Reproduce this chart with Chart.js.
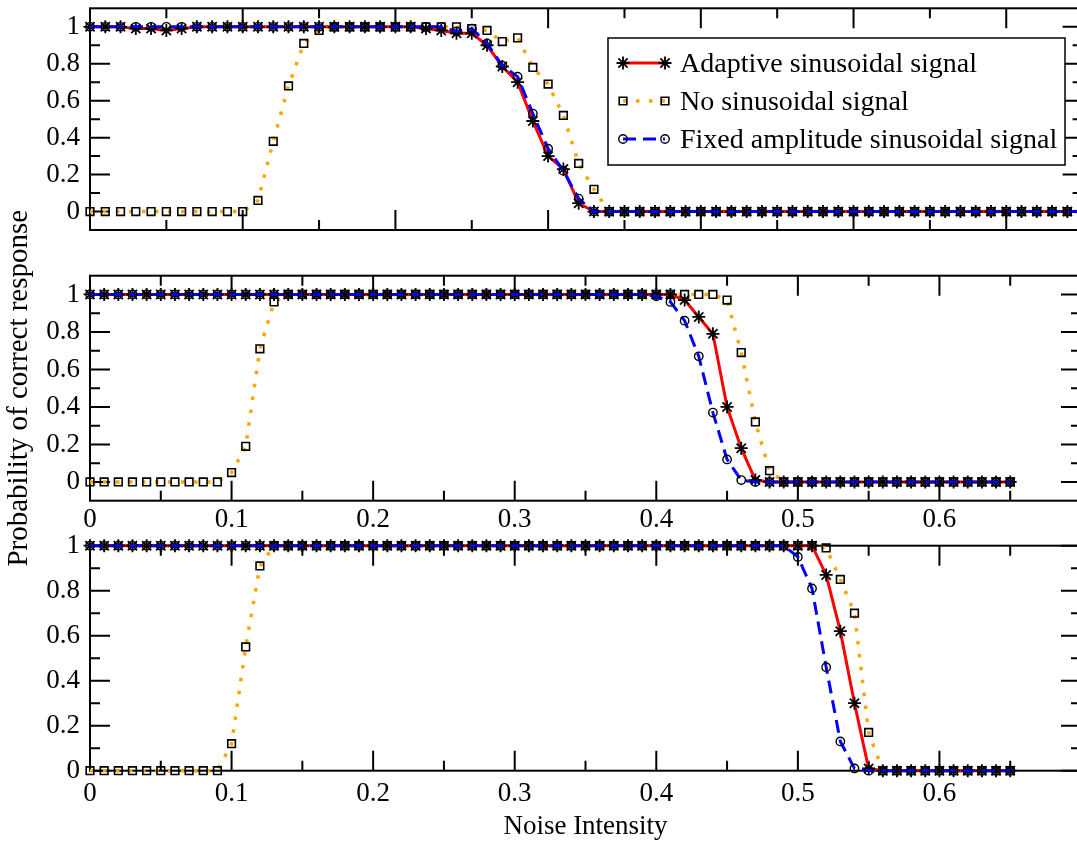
<!DOCTYPE html>
<html>
<head>
<meta charset="utf-8">
<script src="https://cdn.jsdelivr.net/npm/chart.js@4/dist/chart.umd.min.js"></script>
<style>
    html, body { margin: 0; padding: 0; background: #fff; overflow: hidden; width: 1077px; height: 843px; }
    canvas { position: absolute; left: 0; }
</style>
</head>
<body>
<canvas id="panel1" width="1100" height="240" style="top:0px"></canvas>
<canvas id="panel3" width="1100" height="323" style="top:520px"></canvas>
<canvas id="panel2" width="1100" height="420" style="top:180px"></canvas>
<script>
// Noise intensity values (x axis)
const noise = [0.00, 0.01, 0.02, 0.03, 0.04, 0.05, 0.06, 0.07, 0.08, 0.09,
    0.10, 0.11, 0.12, 0.13, 0.14, 0.15, 0.16, 0.17, 0.18, 0.19,
    0.20, 0.21, 0.22, 0.23, 0.24, 0.25, 0.26, 0.27, 0.28, 0.29,
    0.30, 0.31, 0.32, 0.33, 0.34, 0.35, 0.36, 0.37, 0.38, 0.39,
    0.40, 0.41, 0.42, 0.43, 0.44, 0.45, 0.46, 0.47, 0.48, 0.49,
    0.50, 0.51, 0.52, 0.53, 0.54, 0.55, 0.56, 0.57, 0.58, 0.59,
    0.60, 0.61, 0.62, 0.63, 0.64, 0.65];

const seriesNames = ['Adaptive sinusoidal signal', 'No sinusoidal signal', 'Fixed amplitude sinusoidal signal'];

// Panel 1 (top)
const adaptive1 = [1, 1, 1, 0.99, 0.99, 0.98, 0.99, 1, 1, 1,
    1, 1, 1, 1, 1, 1, 1, 1, 1, 1,
    1, 1, 0.99, 0.98, 0.965, 0.965, 0.90, 0.785, 0.70, 0.49,
    0.30, 0.23, 0.045, 0, 0, 0, 0, 0, 0, 0,
    0, 0, 0, 0, 0, 0, 0, 0, 0, 0,
    0, 0, 0, 0, 0, 0, 0, 0, 0, 0,
    0, 0, 0, 0, 0, 0];
const none1 = [0, 0, 0, 0, 0, 0, 0, 0, 0, 0,
    0, 0.06, 0.38, 0.68, 0.91, 0.98, 1, 1, 1, 1,
    1, 1, 1, 1, 1, 0.99, 0.98, 0.92, 0.94, 0.78,
    0.69, 0.52, 0.26, 0.12, 0, 0, 0, 0, 0, 0,
    0, 0, 0, 0, 0, 0, 0, 0, 0, 0,
    0, 0, 0, 0, 0, 0, 0, 0, 0, 0,
    0, 0, 0, 0, 0, 0];
const fixed1 = [1, 1, 1, 1, 1, 1, 1, 1, 1, 1,
    1, 1, 1, 1, 1, 1, 1, 1, 1, 1,
    1, 1, 1, 1, 0.975, 0.99, 0.91, 0.79, 0.73, 0.53,
    0.34, 0.22, 0.07, 0, 0, 0, 0, 0, 0, 0,
    0, 0, 0, 0, 0, 0, 0, 0, 0, 0,
    0, 0, 0, 0, 0, 0, 0, 0, 0, 0,
    0, 0, 0, 0, 0, 0];

// Panel 2 (middle)
const adaptive2 = [1, 1, 1, 1, 1, 1, 1, 1, 1, 1,
    1, 1, 1, 1, 1, 1, 1, 1, 1, 1,
    1, 1, 1, 1, 1, 1, 1, 1, 1, 1,
    1, 1, 1, 1, 1, 1, 1, 1, 1, 1,
    1, 1, 0.97, 0.88, 0.79, 0.40, 0.18, 0.01, 0, 0,
    0, 0, 0, 0, 0, 0, 0, 0, 0, 0,
    0, 0, 0, 0, 0, 0];
const none2 = [0, 0, 0, 0, 0, 0, 0, 0, 0, 0,
    0.05, 0.19, 0.71, 0.96, 1, 1, 1, 1, 1, 1,
    1, 1, 1, 1, 1, 1, 1, 1, 1, 1,
    1, 1, 1, 1, 1, 1, 1, 1, 1, 1,
    1, 1, 1, 1, 1, 0.97, 0.69, 0.32, 0.06, 0,
    0, 0, 0, 0, 0, 0, 0, 0, 0, 0,
    0, 0, 0, 0, 0, 0];
const fixed2 = [1, 1, 1, 1, 1, 1, 1, 1, 1, 1,
    1, 1, 1, 1, 1, 1, 1, 1, 1, 1,
    1, 1, 1, 1, 1, 1, 1, 1, 1, 1,
    1, 1, 1, 1, 1, 1, 1, 1, 1, 1,
    0.99, 0.96, 0.86, 0.67, 0.37, 0.12, 0.01, 0, 0, 0,
    0, 0, 0, 0, 0, 0, 0, 0, 0, 0,
    0, 0, 0, 0, 0, 0];

// Panel 3 (bottom)
const adaptive3 = [1, 1, 1, 1, 1, 1, 1, 1, 1, 1,
    1, 1, 1, 1, 1, 1, 1, 1, 1, 1,
    1, 1, 1, 1, 1, 1, 1, 1, 1, 1,
    1, 1, 1, 1, 1, 1, 1, 1, 1, 1,
    1, 1, 1, 1, 1, 1, 1, 1, 1, 1,
    1, 1, 0.87, 0.62, 0.30, 0.01, 0, 0, 0, 0,
    0, 0, 0, 0, 0, 0];
const none3 = [0, 0, 0, 0, 0, 0, 0, 0, 0, 0,
    0.12, 0.55, 0.91, 1, 1, 1, 1, 1, 1, 1,
    1, 1, 1, 1, 1, 1, 1, 1, 1, 1,
    1, 1, 1, 1, 1, 1, 1, 1, 1, 1,
    1, 1, 1, 1, 1, 1, 1, 1, 1, 1,
    1, 1, 0.99, 0.85, 0.70, 0.17, 0, 0, 0, 0,
    0, 0, 0, 0, 0, 0];
const fixed3 = [1, 1, 1, 1, 1, 1, 1, 1, 1, 1,
    1, 1, 1, 1, 1, 1, 1, 1, 1, 1,
    1, 1, 1, 1, 1, 1, 1, 1, 1, 1,
    1, 1, 1, 1, 1, 1, 1, 1, 1, 1,
    1, 1, 1, 1, 1, 1, 1, 1, 1, 1,
    0.95, 0.81, 0.46, 0.13, 0.01, 0, 0, 0, 0, 0,
    0, 0, 0, 0, 0, 0];

// Tick values and labels
const xTickValues = [0, 0.1, 0.2, 0.3, 0.4, 0.5, 0.6];
const xTickLabels = ['0', '0.1', '0.2', '0.3', '0.4', '0.5', '0.6'];
const xMinorValues = [0.05, 0.15, 0.25, 0.35, 0.45, 0.55, 0.65];
const yTickValues = [0, 0.2, 0.4, 0.6, 0.8, 1];
const yTickLabels = ['0', '0.2', '0.4', '0.6', '0.8', '1'];
const yMinorValues = [0.1, 0.3, 0.5, 0.7, 0.9];

const FONT = 'Liberation Serif';

// frame + inward ticks on all four sides
const framePlugin = {
    id: 'frame',
    beforeDatasetsDraw(chart) {
        const ctx = chart.ctx;
        const a = chart.chartArea;
        const x = chart.scales.x;
        const y = chart.scales.y;
        ctx.save();
        ctx.strokeStyle = '#000';
        ctx.lineWidth = 2;
        ctx.strokeRect(a.left, a.top, a.right - a.left, a.bottom - a.top);
        ctx.beginPath();
        const xt = (vals, len) => vals.forEach(v => {
            const px = x.getPixelForValue(v);
            ctx.moveTo(px, a.bottom); ctx.lineTo(px, a.bottom - len);
            ctx.moveTo(px, a.top); ctx.lineTo(px, a.top + len);
        });
        const yt = (vals, len) => vals.forEach(v => {
            const py = y.getPixelForValue(v);
            ctx.moveTo(a.left, py); ctx.lineTo(a.left + len, py);
            ctx.moveTo(a.right, py); ctx.lineTo(a.right - len, py);
        });
        xt(xTickValues, 20);
        xt(xMinorValues, 10);
        yt(yTickValues, 20);
        yt(yMinorValues, 10);
        ctx.stroke();
        ctx.restore();
    }
};

// boxed legend inside top panel
const legendPlugin = {
    id: 'boxLegend',
    afterDraw(chart, args, opts) {
        if (!opts.show) return;
        const ctx = chart.ctx;
        ctx.save();
        ctx.fillStyle = '#fff';
        ctx.fillRect(608, 38, 457, 127);
        ctx.strokeStyle = '#000';
        ctx.lineWidth = 1.5;
        ctx.strokeRect(608, 38, 457, 127);
        [0, 1, 2].forEach((di, r) => {
            const ds = chart.data.datasets[di];
            const yy = 63 + r * 38;
            ctx.save();
            ctx.strokeStyle = ds.borderColor;
            ctx.lineWidth = ds.borderWidth;
            ctx.setLineDash(ds.borderDash || []);
            ctx.beginPath();
            ctx.moveTo(623, yy);
            ctx.lineTo(665, yy);
            ctx.stroke();
            ctx.setLineDash([]);
            ctx.strokeStyle = '#000';
            ctx.fillStyle = 'rgba(0,0,0,0)';
            ctx.lineWidth = ds.pointBorderWidth;
            [623, 665].forEach(px => Chart.helpers.drawPoint(ctx, {
                pointStyle: ds.pointStyle, radius: ds.pointRadius, borderWidth: ds.pointBorderWidth, rotation: 0
            }, px, yy));
            ctx.restore();
            ctx.fillStyle = '#000';
            ctx.font = '28px "' + FONT + '"';
            ctx.textBaseline = 'alphabetic';
            ctx.fillText(ds.label, 680, yy + 8.5);
        });
        ctx.restore();
    }
};

function makeDatasets(adaptive, none, fixed) {
    const pts = arr => noise.map((x, i) => ({ x: x, y: arr[i] }));
    const common = { tension: 0, clip: false, pointBackgroundColor: 'rgba(0,0,0,0)', pointBorderColor: '#000' };
    return [
        Object.assign({}, common, {
            label: seriesNames[0], data: pts(adaptive), order: 2,
            borderColor: '#ff0000', borderWidth: 3,
            pointStyle: 'star', pointRadius: 6.5, pointBorderWidth: 1.8
        }),
        Object.assign({}, common, {
            label: seriesNames[1], data: pts(none), order: 3,
            borderColor: '#ffa500', borderWidth: 3.5, borderDash: [3.5, 9.5],
            pointStyle: 'rect', pointRadius: 5.4, pointBorderWidth: 1.6
        }),
        Object.assign({}, common, {
            label: seriesNames[2], data: pts(fixed), order: 1,
            borderColor: '#0000ff', borderWidth: 3, borderDash: [13, 7],
            pointStyle: 'circle', pointRadius: 4.2, pointBorderWidth: 1.4
        })
    ];
}

function makePanel(id, sets, cfg) {
    return new Chart(document.getElementById(id), {
        type: 'line',
        data: { datasets: sets },
        options: {
            responsive: false,
            animation: false,
            events: [],
            layout: { padding: cfg.padding },
            plugins: {
                legend: { display: false },
                tooltip: { enabled: false },
                boxLegend: { show: cfg.legend }
            },
            scales: {
                x: {
                    type: 'linear',
                    min: 0,
                    max: cfg.xMax,
                    display: cfg.xLabels,
                    grid: { display: false, drawTicks: false },
                    border: { display: false },
                    afterBuildTicks: s => { s.ticks = xTickValues.map(v => ({ value: v })); },
                    afterFit: s => {
                        s.height = cfg.xHeight;
                        s.paddingLeft = 0;
                        s.paddingRight = 0;
                    },
                    ticks: {
                        padding: cfg.xPad,
                        color: '#000',
                        maxRotation: 0,
                        autoSkip: false,
                        font: { family: FONT, size: 27 },
                        callback: (v, i) => xTickLabels[i]
                    },
                    title: {
                        display: !!cfg.xTitle,
                        text: cfg.xTitle || '',
                        color: '#000',
                        padding: { top: 0, bottom: 0 },
                        font: { family: FONT, size: 27 }
                    }
                },
                y: {
                    min: cfg.yMin,
                    max: cfg.yMax,
                    grid: { display: false, drawTicks: false },
                    border: { display: false },
                    afterBuildTicks: s => { s.ticks = yTickValues.map(v => ({ value: v })); },
                    afterFit: s => {
                        s.width = 90;
                        s.paddingTop = 0;
                        s.paddingBottom = 0;
                    },
                    ticks: {
                        padding: 10,
                        color: '#000',
                        autoSkip: false,
                        font: { family: FONT, size: 27 },
                        callback: (v, i) => yTickLabels[i]
                    },
                    title: {
                        display: !!cfg.yTitle,
                        text: cfg.yTitle || '',
                        color: '#000',
                        padding: { top: 2, bottom: 0 },
                        font: { family: FONT, size: 29 }
                    }
                }
            }
        },
        plugins: [framePlugin, legendPlugin]
    });
}

makePanel('panel1', makeDatasets(adaptive1, none1, fixed1), {
    padding: { top: 4.7, right: 17.4, bottom: 10, left: 0 },
    xMax: 0.65, xLabels: false, xHeight: 0, xPad: 3, yMin: -0.1, yMax: 1.1, legend: true
});
makePanel('panel2', makeDatasets(adaptive2, none2, fixed2), {
    padding: { top: 95.7, right: 19, bottom: 59, left: 0 },
    xMax: 0.7, xLabels: true, xHeight: 40.3, xPad: 3, yMin: -0.1, yMax: 1.1, legend: false,
    yTitle: 'Probability of correct response'
});
makePanel('panel3', makeDatasets(adaptive3, none3, fixed3), {
    padding: { top: 25.7, right: 19, bottom: 0, left: 0 },
    xMax: 0.7, xLabels: true, xHeight: 72.3, xPad: 7, yMin: 0, yMax: 1, legend: false,
    xTitle: 'Noise Intensity'
});
</script>
</body>
</html>
